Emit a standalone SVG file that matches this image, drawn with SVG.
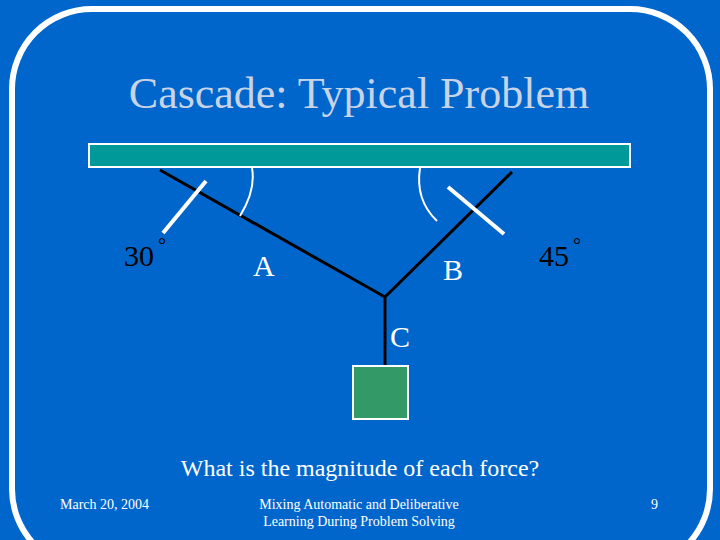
<svg xmlns="http://www.w3.org/2000/svg" width="720" height="540" viewBox="0 0 720 540">
<style>
.t{font-family:"Liberation Serif",serif;}
.w{stroke:#fff;fill:none}
</style>
<rect width="720" height="540" fill="#0066CC"/>
<rect x="12" y="9" width="698" height="560" rx="80" fill="none" stroke="#fff" stroke-width="6"/>
<text class="t" x="359" y="108" font-size="44" fill="#C8D3E6" text-anchor="middle">Cascade: Typical Problem</text>
<g id="bar"><rect x="89" y="144" width="541" height="23" fill="#009999" stroke="#fff" stroke-width="2"/></g>
<g id="connectors">
<path d="M160 170 L385 297 L512 172 M385 297 V366" stroke="#000" stroke-width="3" fill="none"/>
<path class="w" stroke-width="2" d="M252 168 Q256 190 240 216"/>
<path class="w" stroke-width="2" d="M420 168 Q415 200 437 221"/>
<path class="w" stroke-width="4" d="M163 233 L206 181"/>
<path class="w" stroke-width="4" d="M504 234 L448 187"/>
</g>
<g id="weight"><rect x="353" y="366" width="55" height="53" fill="#339966" stroke="#fff" stroke-width="2"/></g>
<g class="t" font-size="30">
<text x="124" y="266" fill="#000">30</text><text x="158" y="252" font-size="20" fill="#000">°</text>
<text x="539" y="266" fill="#000">45</text><text x="573" y="252" font-size="20" fill="#000">°</text>
<text x="253" y="276" fill="#fff">A</text>
<text x="443" y="280" fill="#fff">B</text>
<text x="390" y="347" fill="#fff">C</text>
</g>
<text class="t" x="360" y="476" font-size="24" fill="#fff" text-anchor="middle">What is the magnitude of each force?</text>
<g class="t" font-size="14" fill="#fff">
<text x="60" y="509">March 20, 2004</text>
<text x="359" y="509" text-anchor="middle">Mixing Automatic and Deliberative</text>
<text x="359" y="526" text-anchor="middle">Learning During Problem Solving</text>
<text x="651" y="509">9</text>
</g>
</svg>
